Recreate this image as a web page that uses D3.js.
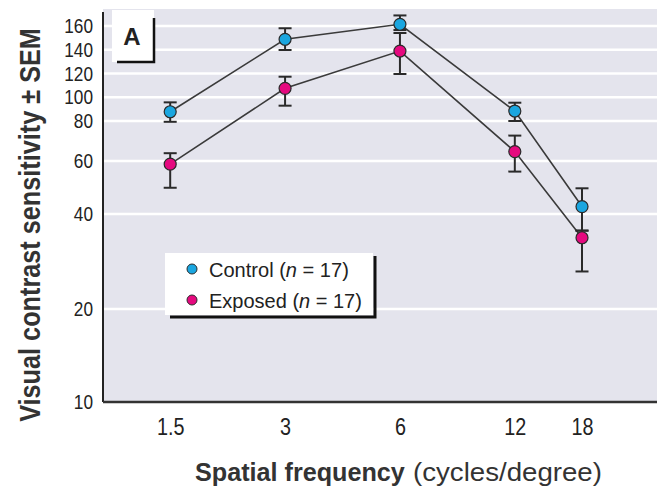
<!DOCTYPE html>
<html>
<head>
<meta charset="utf-8">
<script src="https://cdn.jsdelivr.net/npm/d3@7"></script>
<style>
  body { margin: 0; background: #fff; }
  svg { display: block; font-family: "Liberation Sans", Arial, sans-serif; }
</style>
</head>
<body>
<svg id="canvas" width="657" height="490"></svg>
<script>
// ---- data ----
var freqs = [1.5, 3, 6, 12, 18];
var control = [87.8, 148.8, 161.4, 88.4, 42.8];
var controlLo = [79.6, 139.8, 156.6, 80, 36.5];
var controlHi = [95.7, 158.1, 168.7, 95.4, 49.7];
var exposed = [58.8, 107.5, 138.9, 64.7, 35];
var exposedLo = [49.9, 92.9, 119.6, 56, 27.9];
var exposedHi = [63.9, 117.3, 154.1, 72.7, 36.5];
var yTicks = [10, 20, 40, 60, 80, 100, 120, 140, 160];
var xTicks = [1.5, 3, 6, 12, 18];
var seriesNames = ['Control', 'Exposed'];
var seriesN = [17, 17];
var colors = ['#1aa6e0', '#e5097f'];

var svg = d3.select('#canvas');
var plot = { left: 103, right: 657, top: 9, bottom: 402 };

// x: log scale; y: the original's axis is log below 80 and stretched above it
var x = d3.scaleLog().domain([1, 28.3]).range([plot.left, plot.right]);
var y = d3.scaleLinear()
  .domain([10, 20, 40, 60, 80, 160, 174])
  .range([plot.bottom, 309, 214, 161, 121, 26, plot.top]);

// squeeze a text horizontally so that it is `w` px long (condensed look)
function fitText(sel, w, pre){
  var len = sel.node().getComputedTextLength();
  sel.attr('transform', (pre || '') + ' scale(' + (w / len) + ',1)');
}

// ************************************************************************************** //
// Background, grid, axes

svg.append('rect')
  .attr('x', plot.left).attr('y', plot.top)
  .attr('width', plot.right - plot.left).attr('height', plot.bottom - plot.top)
  .style('fill', '#e4e4ed');

svg.append('g').selectAll('line').data(yTicks.slice(1)).enter().append('line')
  .attr('x1', plot.left).attr('x2', plot.right)
  .attr('y1', d => y(d)).attr('y2', d => y(d))
  .style('stroke', '#fff').style('stroke-width', 2.4);

svg.append('line').attr('x1', plot.left).attr('x2', plot.left).attr('y1', 12).attr('y2', plot.bottom)
  .style('stroke', '#222').style('stroke-width', 2);
svg.append('line').attr('x1', plot.left).attr('x2', plot.right).attr('y1', plot.bottom).attr('y2', plot.bottom)
  .style('stroke', '#333').style('stroke-width', 2.4);

var yAxis = svg.append('g').attr('transform', 'translate(93,0)')
  .call(d3.axisLeft(y).tickValues(yTicks).tickSize(0).tickPadding(0).tickFormat(d3.format('d')));
yAxis.select('.domain').remove();
yAxis.selectAll('text').attr('transform', 'scale(0.82,1)')
  .style('font-size', '21px').style('fill', '#222').style('font-family', '"Liberation Sans", Arial, sans-serif');

var xAxis = svg.append('g').attr('transform', 'translate(0,418.5)')
  .call(d3.axisBottom(x).tickValues(xTicks).tickSize(0).tickPadding(0).tickFormat(d => d));
xAxis.select('.domain').remove();
xAxis.selectAll('text').attr('transform', 'scale(0.86,1)')
  .style('font-size', '23px').style('fill', '#222').style('font-family', '"Liberation Sans", Arial, sans-serif');

// ************************************************************************************** //
// Series

var lineGen = d3.line().x((d, i) => x(freqs[i])).y(d => y(d));
[control, exposed].forEach(function(s){
  svg.append('path').attr('d', lineGen(s))
    .style('fill', 'none').style('stroke', '#3a3a3a').style('stroke-width', 1.6);
});

var groups = [
  { vals: control, lo: controlLo, hi: controlHi, color: colors[0] },
  { vals: exposed, lo: exposedLo, hi: exposedHi, color: colors[1] }
];
groups.forEach(function(g){
  var eg = svg.append('g');
  freqs.forEach(function(f, i){
    var cx = x(f);
    eg.append('line').attr('x1', cx).attr('x2', cx).attr('y1', y(g.lo[i])).attr('y2', y(g.hi[i]))
      .style('stroke', '#2a2a2a').style('stroke-width', 2);
    [g.lo[i], g.hi[i]].forEach(function(v){
      eg.append('line').attr('x1', cx - 6.5).attr('x2', cx + 6.5).attr('y1', y(v)).attr('y2', y(v))
        .style('stroke', '#2a2a2a').style('stroke-width', 2);
    });
  });
});
groups.forEach(function(g){
  svg.append('g').selectAll('circle').data(g.vals).enter().append('circle')
    .attr('cx', (d, i) => x(freqs[i])).attr('cy', d => y(d)).attr('r', 6)
    .style('fill', g.color).style('stroke', '#2a2a2a').style('stroke-width', 1.2);
});

// ************************************************************************************** //
// Panel label, legend, titles

svg.append('rect').attr('x', 112).attr('y', 10).attr('width', 42).attr('height', 52).style('fill', '#fff');
svg.append('path').attr('d', 'M117,62 L154,62 L154,18').style('fill', 'none').style('stroke', '#111').style('stroke-width', 2.5);
svg.append('text').attr('x', 132).attr('y', 45).attr('text-anchor', 'middle')
  .style('font-weight', 'bold').style('font-size', '24px').style('fill', '#222')
  .text('A');

var lg = svg.append('g');
lg.append('path').attr('d', 'M170,317 L375,317 L375,256').style('fill', 'none').style('stroke', '#111').style('stroke-width', 3);
lg.append('rect').attr('x', 165).attr('y', 253).attr('width', 208).attr('height', 62).style('fill', '#fff');
seriesNames.forEach(function(name, i){
  var ly = 269 + i * 31;
  lg.append('circle').attr('cx', 192).attr('cy', ly).attr('r', 5)
    .style('fill', colors[i]).style('stroke', '#2a2a2a').style('stroke-width', 1);
  var t = lg.append('g').attr('transform', 'translate(209,' + (ly + 7.5) + ')')
    .append('text').style('font-size', '21px').style('fill', '#222');
  t.append('tspan').text(name + ' (');
  t.append('tspan').style('font-style', 'italic').text('n');
  t.append('tspan').text(' = ' + seriesN[i] + ')');
  fitText(t, i === 0 ? 140 : 153);
});

var yTitle = svg.append('g').attr('transform', 'translate(40,225) rotate(-90)')
  .append('text').attr('text-anchor', 'middle')
  .style('font-weight', 'bold').style('font-size', '30px').style('fill', '#333')
  .text('Visual contrast sensitivity \u00b1 SEM');
fitText(yTitle, 394);

var xt1 = svg.append('g').attr('transform', 'translate(195,481)').append('text')
  .style('font-weight', 'bold').style('font-size', '25px').style('fill', '#333')
  .text('Spatial frequency');
fitText(xt1, 210);
var xt2 = svg.append('g').attr('transform', 'translate(413,481)').append('text')
  .style('font-size', '25px').style('fill', '#333')
  .text('(cycles/degree)');
fitText(xt2, 189);
</script>
</body>
</html>
